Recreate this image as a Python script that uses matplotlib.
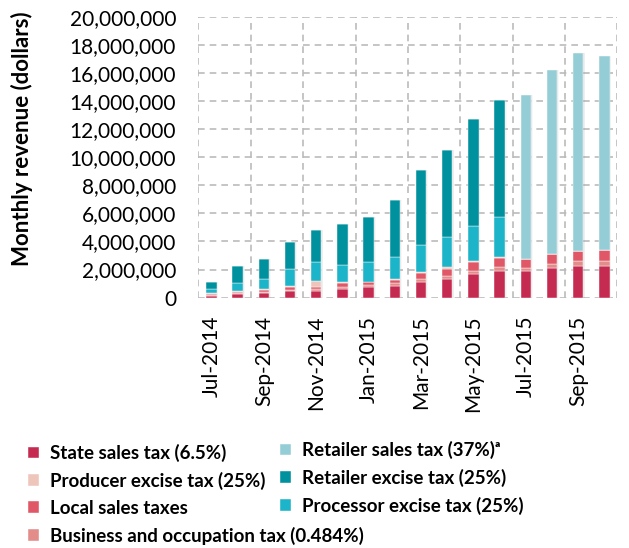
import numpy as np
import matplotlib
matplotlib.use("Agg")
from matplotlib import pyplot as plt
from matplotlib.ticker import FuncFormatter, MultipleLocator

plt.rcParams['font.family'] = ['Lato', 'DejaVu Sans']

# monthly values, millions of dollars
months = ['Jul-2014', 'Aug-2014', 'Sep-2014', 'Oct-2014', 'Nov-2014', 'Dec-2014',
          'Jan-2015', 'Feb-2015', 'Mar-2015', 'Apr-2015', 'May-2015', 'Jun-2015',
          'Jul-2015', 'Aug-2015', 'Sep-2015', 'Oct-2015']
state_sales = [0.14, 0.28, 0.33, 0.47, 0.50, 0.64, 0.74, 0.85, 1.14, 1.33, 1.68, 1.92, 1.87, 2.09, 2.23, 2.28]
bo_tax = [0.02, 0.05, 0.07, 0.10, 0.12, 0.14, 0.14, 0.17, 0.19, 0.21, 0.21, 0.26, 0.26, 0.33, 0.36, 0.33]
local_sales = [0.08, 0.07, 0.14, 0.16, 0.17, 0.24, 0.21, 0.24, 0.40, 0.50, 0.64, 0.64, 0.62, 0.71, 0.76, 0.81]
producer_excise = [0.07, 0.05, 0.05, 0.12, 0.42, 0.07, 0.05, 0.07, 0.07, 0.12, 0.09, 0.09, 0, 0, 0, 0]
processor_excise = [0.31, 0.62, 0.71, 1.17, 1.30, 1.26, 1.37, 1.59, 1.97, 2.18, 2.47, 2.81, 0, 0, 0, 0]
retailer_excise = [0.47, 1.16, 1.43, 1.92, 2.28, 2.89, 3.25, 4.01, 5.33, 6.19, 7.64, 8.33, 0, 0, 0, 0]
retailer_sales = [0] * 12 + [11.66, 13.06, 14.04, 13.79]

# (label, values, colour) from the bottom of the stack up
series = [
    ('State sales tax (6.5%)', state_sales, '#C52B50'),
    ('Business and occupation tax (0.484%)', bo_tax, '#E38D8A'),
    ('Local sales taxes', local_sales, '#E05868'),
    ('Producer excise tax (25%)', producer_excise, '#EEC5BA'),
    ('Processor excise tax (25%)', processor_excise, '#1CB4C8'),
    ('Retailer excise tax (25%)', retailer_excise, '#00919E'),
    ('Retailer sales tax (37%)ᵃ', retailer_sales, '#95CDD6'),
]

fig = plt.figure(figsize=(6.29, 5.48), dpi=100)
ax = fig.add_axes([0.3153, 0.4568, 0.6664, 0.5127])

x = np.arange(len(months))
totals = np.sum([np.array(s[1]) for s in series], axis=0) * 1e6

# soft drop shadow behind each bar
for k, a in [(0.07, 0.06), (0.045, 0.08), (0.025, 0.10)]:
    ax.bar(x + k, totals + k * 2e6, 0.4, bottom=-k * 2e6, color='#888888',
           alpha=a, linewidth=0, zorder=2)

bottom = np.zeros(len(months))
handles = {}
for label, vals, col in series:
    v = np.array(vals) * 1e6
    bars = ax.bar(x, v, 0.4, bottom=bottom, color=col, edgecolor='white',
                  linewidth=0.3, zorder=3, label=label)
    handles[label] = bars
    bottom += v

ax.set_xlim(-0.5, len(months) - 0.5)
ax.set_ylim(0, 20e6)
ax.yaxis.set_major_locator(MultipleLocator(2e6))
ax.yaxis.set_major_formatter(FuncFormatter(lambda v, p: f"{int(v):,}"))
ax.set_xticks(x[::2])
ax.set_xticklabels(months[::2], rotation=90, va='top', ha='center')
ax.set_xticks(np.arange(-0.5, len(months), 2), minor=True)
ax.tick_params(axis='both', which='both', length=0, labelsize=15)
ax.tick_params(axis='y', pad=16)
ax.tick_params(axis='x', pad=13)

ax.grid(axis='y', which='major', color='#BBBBBB', linestyle=(0, (4, 3)), linewidth=1.2, zorder=0)
ax.grid(axis='x', which='minor', color='#BBBBBB', linestyle=(0, (4, 3)), linewidth=1.2, zorder=0)
for s in ax.spines.values():
    s.set_visible(False)

ax.set_ylabel('Monthly revenue (dollars)', fontsize=16, fontweight='bold')
ax.yaxis.set_label_coords(-0.394, 0.565)

left_col = ['State sales tax (6.5%)', 'Producer excise tax (25%)', 'Local sales taxes',
            'Business and occupation tax (0.484%)']
right_col = ['Retailer sales tax (37%)ᵃ', 'Retailer excise tax (25%)', 'Processor excise tax (25%)']
leg_kw = dict(frameon=False, handlelength=0.6, handleheight=0.6, handletextpad=0.6,
              labelspacing=0.52, borderpad=0, borderaxespad=0,
              prop={'size': 13.5, 'weight': 'bold'})
fig.legend([handles[l] for l in left_col], left_col, loc='upper left',
           bbox_to_anchor=(28 / 629, 1 - 444 / 548), **leg_kw)
fig.legend([handles[l] for l in right_col], right_col, loc='upper left',
           bbox_to_anchor=(280 / 629, 1 - 441 / 548), **leg_kw)

plt.savefig('out.png', dpi=100)
